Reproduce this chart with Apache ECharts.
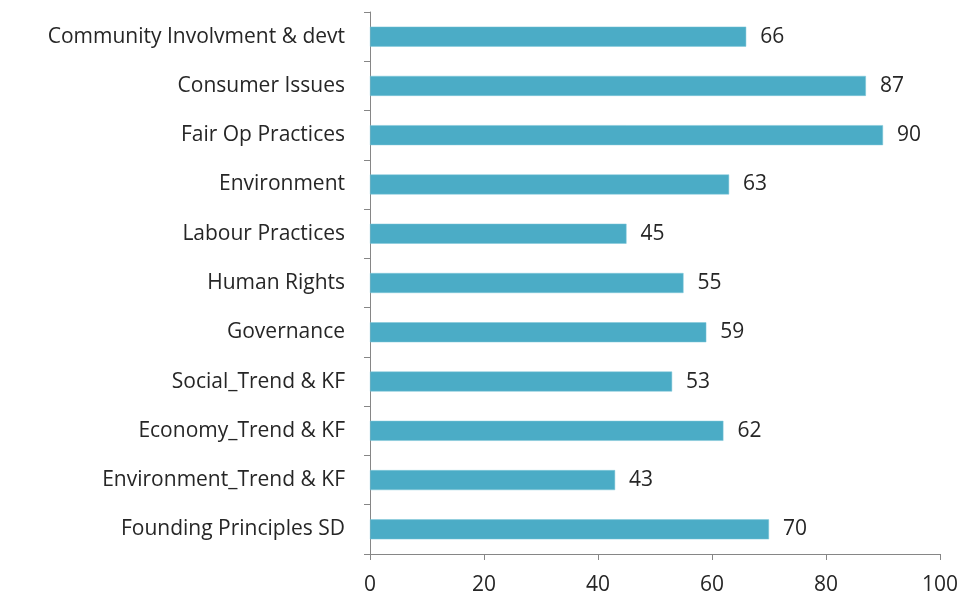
<!DOCTYPE html>
<html>
<head>
<meta charset="utf-8">
<script src="https://cdn.jsdelivr.net/npm/echarts@6/dist/echarts.min.js"></script>
<style>
  html, body { margin: 0; padding: 0; background: #fff; }
  #chart { width: 973px; height: 601px; }
</style>
</head>
<body>
<div id="chart"></div>
<script>
// categories listed bottom to top (ECharts category axis starts at the bottom)
const categories = [
  'Founding Principles SD',
  'Environment_Trend & KF',
  'Economy_Trend & KF',
  'Social_Trend & KF',
  'Governance',
  'Human Rights',
  'Labour Practices',
  'Environment',
  'Fair Op Practices',
  'Consumer Issues',
  'Community Involvment & devt'
];
const scores = [70, 43, 62, 53, 59, 55, 45, 63, 90, 87, 66];

const axisGray = '#868686';
const textColor = '#262626';
const fontFamily = '"Open Sans", sans-serif';

let myChart = echarts.init(document.getElementById('chart'));
let option = {
  animation: false,
  grid: { left: 370, right: 33, top: 12, bottom: 47 },
  xAxis: {
    type: 'value',
    min: 0,
    max: 100,
    interval: 20,
    axisLine: { show: true, lineStyle: { color: axisGray, width: 1 } },
    axisTick: { show: true, length: 6, lineStyle: { color: axisGray } },
    splitLine: { show: false },
    axisLabel: { color: textColor, fontSize: 21, fontFamily: fontFamily, margin: 21 }
  },
  yAxis: {
    type: 'category',
    data: categories,
    axisLine: { show: true, lineStyle: { color: axisGray, width: 1 } },
    axisTick: { show: true, length: 6, alignWithLabel: false, lineStyle: { color: axisGray } },
    axisLabel: { color: textColor, fontSize: 21, fontFamily: fontFamily, margin: 25 }
  },
  series: [
    {
      type: 'bar',
      data: scores,
      barWidth: 20,
      itemStyle: { color: '#4BACC6', borderColor: '#7FC6D8', borderWidth: 0.5 },
      label: {
        show: true,
        position: 'right',
        distance: 14,
        color: textColor,
        fontSize: 21,
        fontFamily: fontFamily
      }
    }
  ]
};
myChart.setOption(option);
</script>
</body>
</html>
